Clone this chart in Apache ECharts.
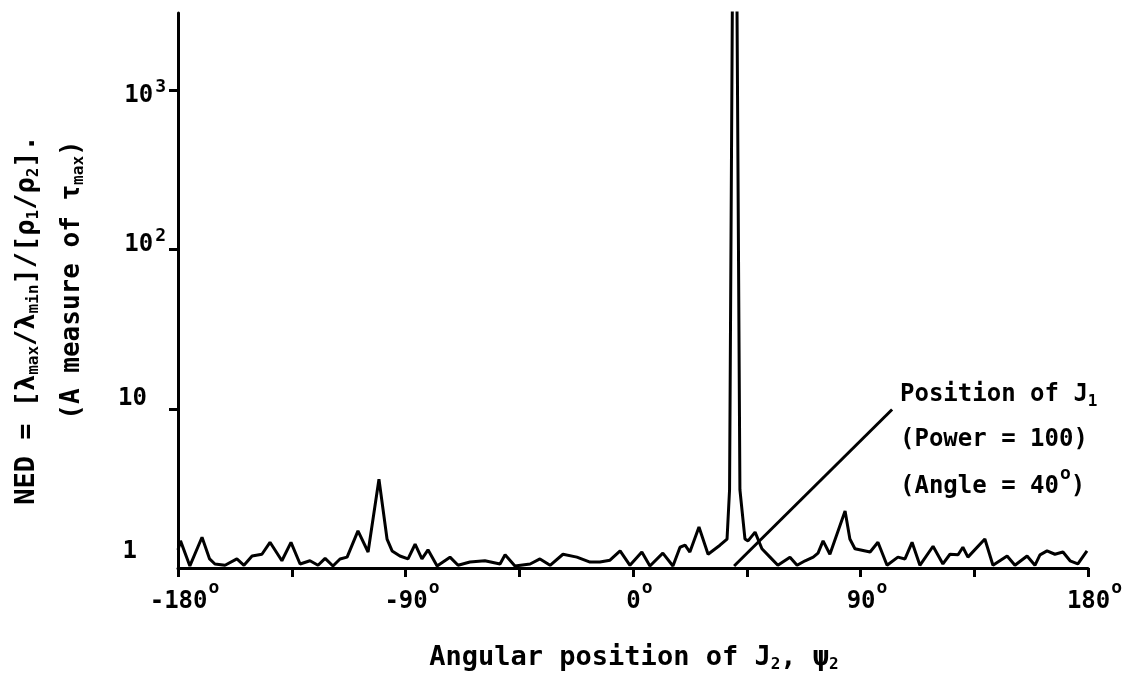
<!DOCTYPE html>
<html><head><meta charset="utf-8">
<script src="https://cdn.jsdelivr.net/npm/echarts@6/dist/echarts.min.js"></script>
<style>html,body{margin:0;background:#fff}#c{width:1126px;height:688px}</style>
</head><body><div id="c"></div>
<script>
// Angular position of J2 (degrees)
const angles = [-180,-179,-175.3,-170.5,-167.5,-165.4,-161.4,-156.7,-153.9,-150.7,-146.8,-143.6,-138.9,-135.3,-131.7,-127.8,-124.6,-121.8,-118.7,-115.9,-113.1,-108.8,-104.8,-100.5,-97.3,-95.3,-92.2,-89.0,-86.2,-83.5,-81.1,-77.5,-72.4,-69.2,-64.5,-58.6,-52.6,-50.6,-46.7,-40.7,-36.8,-32.8,-27.7,-22.2,-17.0,-13.1,-9.1,-5.1,-1.2,3.5,6.7,11.8,15.8,18.6,20.6,22.5,26.1,29.7,34.4,37.2,38.2,40.2,42.3,44.3,45.5,48.3,51.0,54.2,57.3,62.1,64.9,68.1,71.3,73.2,75.2,77.9,83.9,85.8,87.8,93.8,96.9,100.5,104.8,107.6,110.4,113.5,118.7,122.6,125.4,128.6,130.5,132.5,139.2,142.4,148.0,151.1,155.9,159.0,161.0,163.8,166.9,170.1,172.9,176.0,179.6];
// NED values
const ned = [1.3,1.48,1.03,1.56,1.14,1.06,1.04,1.14,1.04,1.19,1.22,1.45,1.11,1.45,1.06,1.11,1.04,1.15,1.03,1.14,1.17,1.71,1.26,3.61,1.52,1.28,1.19,1.14,1.41,1.14,1.30,1.03,1.17,1.04,1.09,1.11,1.06,1.21,1.03,1.06,1.14,1.04,1.22,1.17,1.09,1.09,1.12,1.28,1.04,1.26,1.03,1.24,1.03,1.35,1.39,1.26,1.81,1.22,1.39,1.52,3.1,1000000,3.1,1.52,1.48,1.68,1.32,1.17,1.04,1.17,1.04,1.11,1.17,1.24,1.48,1.22,2.28,1.52,1.32,1.26,1.45,1.04,1.17,1.14,1.45,1.04,1.37,1.06,1.22,1.21,1.35,1.17,1.52,1.04,1.19,1.04,1.19,1.04,1.21,1.28,1.22,1.26,1.11,1.06,1.28];
// x tick labels (degrees) shown on the axis
const xLabelValues = [-180, -90, 0, 90, 180];
// y tick labels
const yLabelText = {1: '{d0|1}', 10: '{d1|10}', 100: '{d2|10}{s2|2}', 1000: '{d3|10}{s3|3}'};
// annotation pointer: from the J1 position to the text
const pointerX = [40, 102.5];
const pointerY = [1.03, 9.9];

const FONT = '"DejaVu Sans Mono", monospace';
const tok = (size, pad) => ({fontSize: size, fontWeight: 'bold', fontFamily: FONT, color: '#000', padding: pad});
const subStyleG = {fontSize: 16, fontWeight: 'bold', fontFamily: FONT, fill: '#000', padding: [14, 0, 0, 0]};
const supStyleG = {fontSize: 18, fontWeight: 'bold', fontFamily: FONT, fill: '#000', padding: [0, 0, 26, 1]};

const chart = echarts.init(document.getElementById('c'));
function gText(x, y, text, rot, align, size) {
  return {type: 'text', x: x, y: y, rotation: rot || 0,
    style: {text: text, fontSize: size || 24, fontWeight: 'bold', fontFamily: FONT, fill: '#000',
      align: align || 'left', verticalAlign: 'middle', rich: {sub: subStyleG, sup: supStyleG}}};
}
chart.setOption({
  backgroundColor: '#fff',
  animation: false,
  grid: {left: 178, right: 38, top: 13, bottom: 120},
  xAxis: {
    type: 'value', min: -180, max: 180, interval: 45,
    axisLine: {onZero: false, lineStyle: {color: '#000', width: 3}},
    axisTick: {show: true, inside: false, length: 9, lineStyle: {color: '#000', width: 3}},
    splitLine: {show: false},
    axisLabel: {
      margin: 8, color: '#000', fontSize: 24, fontWeight: 'bold', fontFamily: FONT,
      padding: [0, 0, 0, 13],
      formatter: v => xLabelValues.indexOf(v) >= 0 ? '{d|' + v + '}{sup|o}' : '',
      rich: {d: tok(24, [14, 0, 0, 0]), sup: tok(18, [0, 0, 14, 1])}
    }
  },
  yAxis: {
    type: 'log', logBase: 10, min: 1, max: 3062,
    axisLine: {show: true, onZero: false, lineStyle: {color: '#000', width: 3}},
    axisTick: {show: true, inside: false, length: 9, lineStyle: {color: '#000', width: 3}, customValues: [10, 100, 1000]},
    splitLine: {show: false},
    axisLabel: {
      margin: 12, color: '#000', fontSize: 24, fontWeight: 'bold', fontFamily: FONT,
      formatter: v => yLabelText[Math.round(v)] || '',
      rich: {
        d0: tok(24, [0, 29, 32, 0]),
        d1: tok(24, [0, 19, 20, 0]),
        d2: tok(24, [0, 0, 10, 0]),
        s2: tok(18, [0, 0, 26, 2]),
        d3: tok(24, [10, 0, 0, 0]),
        s3: tok(18, [0, 0, 6, 2])
      }
    }
  },
  series: [
    {type: 'line', data: angles.map((a, i) => [a, ned[i]]), showSymbol: false, clip: true,
     lineStyle: {color: '#000', width: 3}, z: 3},
    {type: 'line', data: pointerX.map((a, i) => [a, pointerY[i]]), showSymbol: false,
     lineStyle: {color: '#000', width: 3}, z: 3}
  ],
  graphic: [
    gText(900, 395, 'Position of J{sub|1}'),
    gText(900, 440, '(Power = 100)'),
    gText(900, 487, '(Angle = 40{sup|o})'),
    gText(634, 658, 'Angular position of J{sub|2}, ψ{sub|2}', 0, 'center', 27),
    gText(27, 320, 'NED = [λ{sub|max}/λ{sub|min}]/[ρ{sub|1}/ρ{sub|2}].', Math.PI / 2, 'center', 27),
    gText(72, 280, '(A measure of τ{sub|max})', Math.PI / 2, 'center', 26)
  ]
});
</script></body></html>
